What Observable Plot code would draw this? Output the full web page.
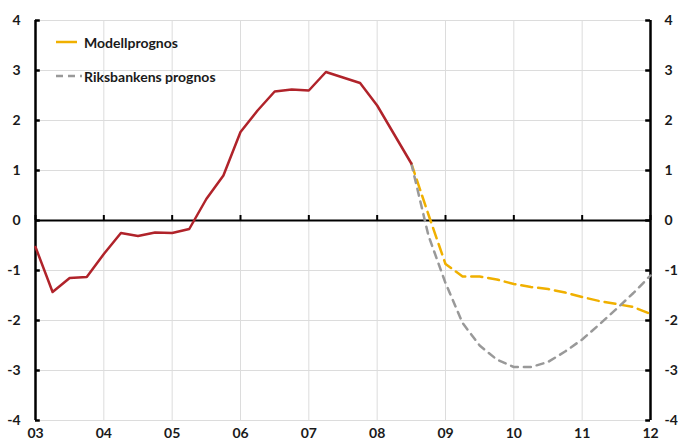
<!DOCTYPE html>
<html>
<head>
<meta charset="utf-8">
<script src="https://cdn.jsdelivr.net/npm/d3@7"></script>
<script src="https://cdn.jsdelivr.net/npm/@observablehq/plot@0.6"></script>
<style>
  body { margin: 0; background: #fff; }
  #wrap { position: relative; width: 678px; height: 444px; font-family: Lato, "Open Sans", sans-serif; }
  .leg { position: absolute; left: 56px; height: 18px; display: flex; align-items: center; font-weight: bold; font-size: 14px; color: #1a1a1a; }
  .leg svg { width: 28px; height: 6px; flex: none; }
</style>
</head>
<body>
<div id="wrap">
  <div class="leg" style="top:33px"><svg><line x1="0" y1="3" x2="21" y2="3" stroke="#F0B000" stroke-width="2.5"/></svg><span>Modellprognos</span></div>
  <div class="leg" style="top:67px"><svg><line x1="0" y1="3" x2="26" y2="3" stroke="#999999" stroke-width="2.5" stroke-dasharray="7,5"/></svg><span>Riksbankens prognos</span></div>
</div>
<script>
// Quarterly values, 2003Q1 .. 2008Q3 (outcome)
const startYear = 2003;
const outcome = [-0.53,-1.43,-1.15,-1.13,-0.67,-0.25,-0.31,-0.24,-0.25,-0.17,0.43,0.9,1.77,2.2,2.58,2.62,2.6,2.97,2.86,2.75,2.3,1.72,1.14];
// Forecasts, 2008Q3 .. 2012Q1
const forecastStart = 2008.5;
const modellprognos = [1.14,0.12,-0.87,-1.12,-1.12,-1.18,-1.27,-1.33,-1.37,-1.44,-1.53,-1.61,-1.67,-1.73,-1.87];
const riksbankensPrognos = [1.14,-0.3,-1.25,-2.05,-2.5,-2.78,-2.93,-2.93,-2.83,-2.62,-2.38,-2.08,-1.77,-1.45,-1.1];
const yearTicks = [2003,2004,2005,2006,2007,2008,2009,2010,2011,2012];
const yTicks = [-4,-3,-2,-1,0,1,2,3,4];

const outData = outcome.map((v,i) => ({t: startYear + i/4, v}));
const modData = modellprognos.map((v,i) => ({t: forecastStart + i/4, v}));
const rbData = riksbankensPrognos.map((v,i) => ({t: forecastStart + i/4, v}));

const axisFont = {fontSize: 14, fontWeight: "bold", fill: "#1a1a1a"};
const tickLen = 0.07; // in years, ~5px

const chart = Plot.plot({
  width: 678,
  height: 444,
  marginLeft: 35,
  marginRight: 28,
  marginTop: 20,
  marginBottom: 24,
  style: {fontFamily: "Lato, 'Open Sans', sans-serif", background: "white"},
  x: {domain: [2003, 2012], label: null},
  y: {domain: [-4, 4], label: null},
  marks: [
    Plot.gridY(yTicks, {stroke: "#dcdcdc", strokeOpacity: 1, strokeWidth: 1}),
    Plot.gridX(yearTicks, {stroke: "#dcdcdc", strokeOpacity: 1, strokeWidth: 1}),
    Plot.ruleY([0], {stroke: "black", strokeWidth: 2}),
    Plot.ruleX(yearTicks, {x: d => d, y1: 0, y2: 0.1, stroke: "black", strokeWidth: 2}),
    Plot.ruleX([2003, 2012], {stroke: "black", strokeWidth: 2.5}),
    Plot.ruleY(yTicks, {y: d => d, x1: 2003, x2: 2003 + tickLen, stroke: "black", strokeWidth: 2.5}),
    Plot.ruleY(yTicks, {y: d => d, x1: 2012 - tickLen, x2: 2012, stroke: "black", strokeWidth: 2.5}),
    Plot.axisY(yTicks, {anchor: "left", tickSize: 0, tickPadding: 15, label: null, tickFormat: d => String(d), ...axisFont}),
    Plot.axisY(yTicks, {anchor: "right", tickSize: 0, tickPadding: 14, label: null, tickFormat: d => String(d), textAnchor: "start", ...axisFont}),
    Plot.axisX(yearTicks, {anchor: "bottom", tickSize: 0, tickPadding: 8, label: null, tickFormat: d => String(d).slice(2), ...axisFont}),
    Plot.line(modData, {x: "t", y: "v", stroke: "#F0B000", strokeWidth: 2.5, strokeDasharray: "11,6"}),
    Plot.line(rbData, {x: "t", y: "v", stroke: "#999999", strokeWidth: 2.5, strokeDasharray: "7,6"}),
    Plot.line(outData, {x: "t", y: "v", stroke: "#B0232A", strokeWidth: 2.5})
  ]
});
document.getElementById("wrap").prepend(chart);
</script>
</body>
</html>
